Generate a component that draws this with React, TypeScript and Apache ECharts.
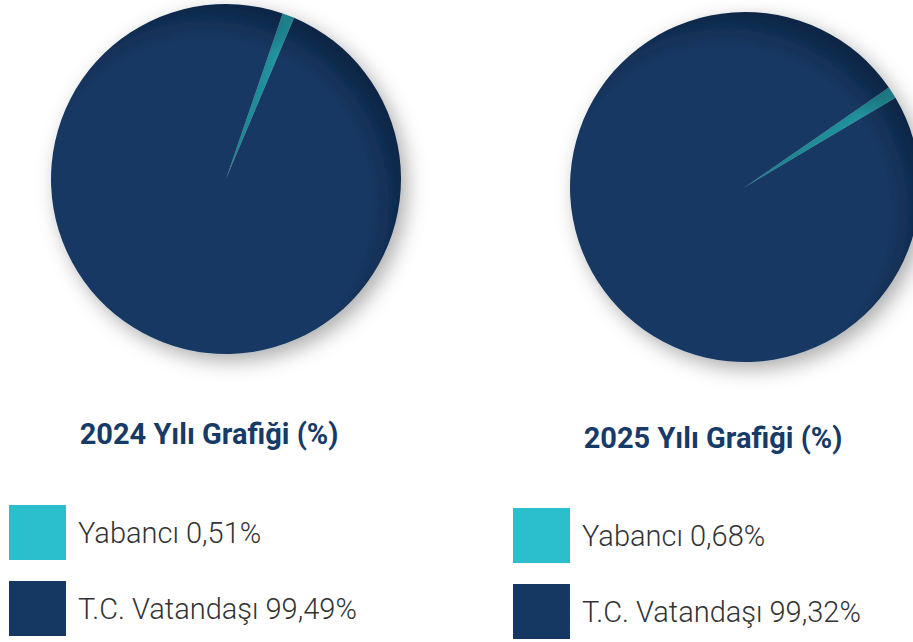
import React, { useEffect, useRef } from "react";
import * as echarts from "echarts";

const categories = ["Yabancı", "T.C. Vatandaşı"];
const values2024 = [0.51, 99.49];
const values2025 = [0.68, 99.32];
const titles = ["2024 Yılı Grafiği (%)", "2025 Yılı Grafiği (%)"];

const NAVY = "#153863";
const NAVY_DARK = "#0e2544";
const CYAN = "#2bbfcd";
const CYAN_DARK = "#1f8a95";

function fmt(v: number) {
  return v.toFixed(2).replace(".", ",") + "%";
}

function grad(cx: number, cy: number, base: string, dark: string) {
  return new echarts.graphic.RadialGradient(
    cx - 20,
    cy + 25,
    205,
    [
      { offset: 0, color: base },
      { offset: 0.8, color: base },
      { offset: 1, color: dark },
    ],
    true
  );
}

function makeSeries(values: number[], cx: number, cy: number, startAngle: number) {
  return {
    type: "pie",
    center: [cx, cy],
    radius: 175,
    startAngle,
    clockwise: true,
    minAngle: 4,
    label: { show: false },
    labelLine: { show: false },
    emphasis: { disabled: true },
    itemStyle: {
      borderWidth: 0,
      shadowBlur: 20,
      shadowOffsetX: 6,
      shadowOffsetY: 7,
      shadowColor: "rgba(0,0,0,0.32)",
    },
    data: categories.map((c, i) => ({
      name: c,
      value: values[i],
      itemStyle: {
        color: i === 0 ? grad(cx, cy, CYAN, CYAN_DARK) : grad(cx, cy, NAVY, NAVY_DARK),
      },
    })),
  };
}

function makeLegend(values: number[], idx: number, left: number, top: number) {
  const name = categories[idx];
  return {
    orient: "vertical",
    left,
    top,
    padding: 0,
    icon: "rect",
    itemWidth: 57,
    itemHeight: 55,
    selectedMode: false,
    data: [{ name, itemStyle: { color: idx === 0 ? CYAN : NAVY } }],
    formatter: (n: string) => `${n} ${fmt(values[categories.indexOf(n)])}`,
    textStyle: {
      fontFamily: "Roboto",
      fontWeight: 300,
      fontSize: 29,
      color: "#333333",
      padding: [0, 0, 0, 7],
    },
  };
}

export default function App() {
  const ref = useRef<HTMLDivElement>(null);
  useEffect(() => {
    if (!ref.current) return;
    const chart = echarts.init(ref.current, undefined, { renderer: "svg" });
    const titleStyle = {
      fontFamily: "Roboto",
      fontWeight: "bold",
      fontSize: 29,
      lineHeight: 30,
      color: "#173a66",
    };
    chart.setOption({
      animation: false,
      backgroundColor: "#ffffff",
      title: [
        { text: titles[0], left: 209, top: 419, padding: 0, textAlign: "center", textStyle: titleStyle },
        { text: titles[1], left: 713, top: 423, padding: 0, textAlign: "center", textStyle: titleStyle },
      ],
      legend: [
        makeLegend(values2024, 0, 9, 505),
        makeLegend(values2024, 1, 9, 581),
        makeLegend(values2025, 0, 513, 508),
        makeLegend(values2025, 1, 513, 584),
      ],
      series: [
        makeSeries(values2024, 226, 179, 71.1),
        makeSeries(values2025, 745, 187, 34.7),
      ],
    });
    return () => chart.dispose();
  }, []);
  return (
    <div
      ref={ref}
      style={{ position: "fixed", left: 0, top: 0, width: 913, height: 642 }}
    />
  );
}
